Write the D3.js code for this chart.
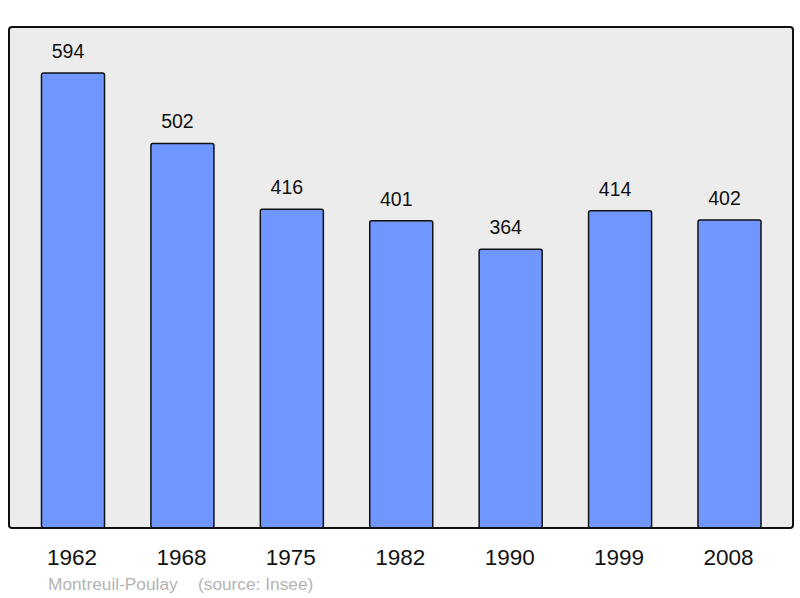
<!DOCTYPE html>
<html><head><meta charset="utf-8">
<script src="https://cdn.jsdelivr.net/npm/d3@7"></script>
<style>body{margin:0;background:#fff}svg{display:block}text{font-family:"Liberation Sans",Arial,sans-serif}</style>
</head><body>
<svg id="c" width="800" height="598"></svg>
<script>
const years = ["1962","1968","1975","1982","1990","1999","2008"];
const population = [594,502,416,401,364,414,402];
const captionName = "Montreuil-Poulay";
const captionSource = "(source: Insee)";

const svg = d3.select("#c");
const frame = {x0: 9, x1: 793, y0: 27, y1: 528};
svg.append("rect").attr("x", frame.x0).attr("y", frame.y0)
  .attr("width", frame.x1 - frame.x0).attr("height", frame.y1 - frame.y0)
  .attr("rx", 3).attr("fill", "#ececec");

const x = d3.scaleBand().domain(years).range([18.3, 784.2]).paddingInner(0.424).paddingOuter(0.212);
const y = d3.scaleLinear().domain([0, 654]).range([frame.y1, frame.y0]);

svg.selectAll("rect.bar").data(years).join("rect").attr("class","bar")
  .attr("x", d => x(d)).attr("width", x.bandwidth())
  .attr("y", (d,i) => y(population[i])).attr("height", (d,i) => y(0) - y(population[i]))
  .attr("rx", 2).attr("fill", "#7097ff").attr("stroke", "#111").attr("stroke-width", 1.5);

svg.selectAll("text.val").data(years).join("text").attr("class","val")
  .attr("x", d => x(d) + x.bandwidth()/2 - 5).attr("y", (d,i) => y(population[i]) - 15)
  .attr("text-anchor","middle").attr("font-size", 19.5).attr("fill","#111")
  .text((d,i) => population[i]);

svg.append("rect").attr("x", frame.x0).attr("y", frame.y0)
  .attr("width", frame.x1 - frame.x0).attr("height", frame.y1 - frame.y0)
  .attr("rx", 3).attr("fill", "none").attr("stroke", "#111").attr("stroke-width", 2);

const xAxis = d3.axisBottom(x).tickSize(0).tickPadding(0);
const ax = svg.append("g").attr("transform", `translate(0,${frame.y1})`).call(xAxis);
ax.select(".domain").remove();
ax.selectAll("text").attr("font-size", 22.5).attr("fill","#111").attr("dy", null).attr("y", 37)
  .attr("dx", -1)
  .style("font-family", '"Liberation Sans",Arial,sans-serif');

svg.append("text").attr("x", 48).attr("y", 590).attr("font-size", 17.3).attr("fill", "#b3b3b3").text(captionName);
svg.append("text").attr("x", 198).attr("y", 590).attr("font-size", 17.3).attr("fill", "#b3b3b3").text(captionSource);
</script>
</body></html>
